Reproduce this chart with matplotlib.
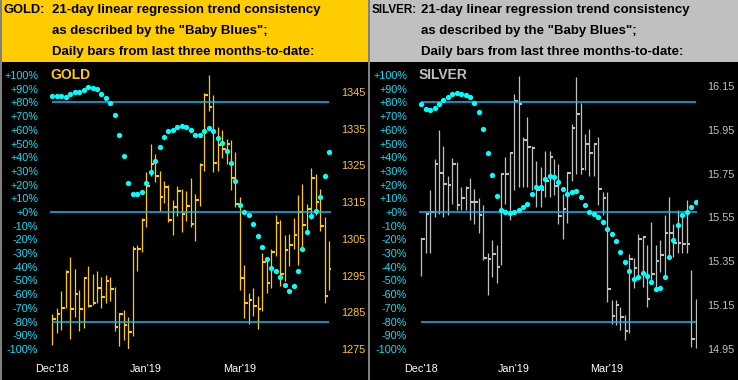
import matplotlib
matplotlib.use("Agg")
import matplotlib.pyplot as plt
from matplotlib.patches import Rectangle
import matplotlib.transforms as mtransforms

# ---------------- data ----------------
month_ticks = [0, 21, 42]
month_labels = ["Dec'18", "Jan'19", "Mar'19"]
pct_ticks = list(range(-100, 101, 10))

gold_high = [1284.5, 1286.2, 1290.8, 1296.5, 1300.1, 1296.8, 1291.1, 1294.5, 1297.6, 1295.4,
             1296.3, 1294.6, 1295.2, 1294.6, 1291.9, 1284.8, 1285.6, 1283.7, 1303.1, 1303.3,
             1310.7, 1323.2, 1330.9, 1328.1, 1323.5, 1320.8, 1319.7, 1315.6, 1319.4, 1318.5,
             1318.1, 1321.6, 1317.2, 1325.6, 1344.8, 1349.7, 1344.2, 1335.5, 1334.7, 1332.2,
             1332.0, 1328.7, 1316.4, 1297.9, 1290.3, 1291.6, 1289.4, 1301.2, 1300.1, 1302.2,
             1311.5, 1310.1, 1306.0, 1306.3, 1310.7, 1317.0, 1320.0, 1314.4, 1324.3, 1322.7,
             1318.6, 1311.0, 1304.4]
gold_low = [1276.1, 1279.4, 1280.2, 1286.2, 1277.8, 1283.8, 1280.0, 1280.8, 1286.5, 1287.0,
            1287.6, 1286.3, 1287.5, 1288.2, 1280.0, 1275.9, 1277.5, 1275.1, 1278.5, 1296.3,
            1301.5, 1308.1, 1322.1, 1320.6, 1312.7, 1314.7, 1309.5, 1306.1, 1311.3, 1307.0,
            1310.0, 1308.2, 1304.5, 1314.0, 1323.6, 1339.7, 1323.3, 1323.6, 1327.1, 1325.5,
            1318.3, 1313.8, 1291.2, 1283.5, 1281.9, 1284.1, 1280.5, 1285.4, 1290.3, 1291.7,
            1300.4, 1292.2, 1293.6, 1297.7, 1302.2, 1298.0, 1302.4, 1306.5, 1310.5, 1311.6,
            1307.2, 1287.6, 1291.2]
gold_close = [1283.3, 1284.5, 1286.2, 1296.1, 1286.0, 1290.1, 1286.0, 1294.4, 1286.8, 1287.6,
              1291.7, 1289.3, 1293.4, 1291.3, 1281.1, 1284.5, 1281.5, 1279.7, 1302.3, 1302.3,
              1310.1, 1319.4, 1325.5, 1322.0, 1316.5, 1319.2, 1310.1, 1313.8, 1318.1, 1311.7,
              1314.0, 1309.1, 1315.7, 1325.0, 1344.1, 1340.9, 1325.8, 1330.6, 1329.6, 1330.9,
              1321.7, 1314.6, 1294.4, 1287.6, 1288.4, 1286.8, 1286.0, 1298.6, 1293.1, 1301.5,
              1309.4, 1295.5, 1302.0, 1303.4, 1306.1, 1312.4, 1308.9, 1313.1, 1321.5, 1315.1,
              1308.4, 1289.5, 1296.9]
gold_blues = [84.9, 84.9, 84.9, 83.9, 86.4, 87.6, 87.6, 88.8, 91.5, 90.5,
              90.0, 86.4, 83.4, 79.6, 71.0, 56.2, 40.9, 21.2, 13.1, 13.1,
              14.6, 21.2, 29.2, 37.2, 47.4, 54.7, 59.1, 59.9, 62.0, 62.8,
              62.2, 60.0, 56.2, 56.2, 59.4, 61.6, 59.4, 54.2, 50.6, 44.8,
              36.0, 22.9, 5.4, 0.2, -1.9, -8.5, -17.3, -25.3, -34.1, -40.6,
              -42.8, -47.2, -53.0, -57.4, -53.8, -42.8, -26.8, -14.4, -2.7, 0.9,
              11.2, 26.5, 44.0]
gold_price_ticks = [1275, 1285, 1295, 1305, 1315, 1325, 1335, 1345]

silver_high = [15.456, 15.567, 15.677, 15.817, 15.950, 15.877, 15.741, 15.821, 15.801, 15.688,
               15.692, 15.730, 15.680, 15.640, 15.605, 15.385, 15.445, 15.423, 15.749, 15.827,
               15.847, 16.112, 16.195, 15.915, 16.006, 15.877, 15.809, 15.779, 15.855, 15.855,
               15.817, 15.794, 15.658, 15.756, 15.976, 16.191, 16.074, 15.930, 15.953, 15.888,
               15.918, 15.665, 15.665, 15.173, 15.173, 15.142, 15.105, 15.382, 15.362, 15.476,
               15.464, 15.423, 15.529, 15.423, 15.445, 15.559, 15.645, 15.521, 15.585, 15.567,
               15.627, 15.309, 15.177]
silver_low = [15.283, 15.388, 15.385, 15.551, 15.567, 15.551, 15.559, 15.612, 15.585, 15.585,
              15.582, 15.536, 15.518, 15.480, 15.355, 15.195, 15.276, 15.249, 15.332, 15.612,
              15.536, 15.673, 15.688, 15.688, 15.688, 15.673, 15.597, 15.597, 15.642, 15.642,
              15.650, 15.521, 15.449, 15.524, 15.718, 15.749, 15.749, 15.764, 15.741, 15.741,
              15.605, 15.559, 15.165, 15.064, 15.059, 15.036, 14.991, 15.021, 15.226, 15.264,
              15.233, 15.140, 15.249, 15.226, 15.301, 15.271, 15.362, 15.370, 15.385, 15.385,
              15.385, 14.960, 14.953]
silver_close = [15.451, 15.564, 15.575, 15.794, 15.751, 15.703, 15.699, 15.794, 15.605, 15.640,
                15.683, 15.620, 15.620, 15.559, 15.362, 15.358, 15.382, 15.324, 15.749, 15.749,
                15.842, 16.079, 16.067, 15.905, 15.870, 15.867, 15.673, 15.673, 15.718, 15.824,
                15.691, 15.555, 15.590, 15.751, 15.960, 16.024, 15.771, 15.885, 15.842, 15.885,
                15.680, 15.640, 15.223, 15.101, 15.151, 15.094, 15.033, 15.360, 15.320, 15.451,
                15.459, 15.179, 15.291, 15.351, 15.380, 15.479, 15.479, 15.433, 15.433, 15.429,
                15.429, 14.995, 15.101]
silver_blues = [78.8, 75.4, 74.7, 75.6, 78.8, 82.0, 83.9, 85.8, 86.6, 86.1,
                85.1, 84.2, 79.3, 72.7, 60.8, 43.3, 27.2, 11.4, 1.7, 0.2,
                -1.0, 0.2, 1.2, 3.4, 6.1, 13.4, 18.5, 18.5, 23.8, 26.2,
                25.5, 22.1, 16.5, 13.4, 14.3, 15.5, 10.7, 4.8, 0.2, -1.2,
                -3.9, -7.1, -12.2, -16.3, -21.4, -29.5, -36.3, -42.8, -48.7, -47.7,
                -44.8, -47.0, -51.4, -56.5, -55.8, -47.2, -32.6, -20.2, -9.8, -2.0,
                0.2, 3.6, 7.0]
silver_price_ticks = [14.95, 15.15, 15.35, 15.55, 15.75, 15.95, 16.15]

# ---------------- styling ----------------
W, H = 738, 380
GOLD_C = "#FFCC00"
SILV_C = "#C0C0C0"
DOT_C = "#00FFFF"
LINE_C = "#00BFFF"
PCT_C = "#00E5FF"
FONT = "Liberation Sans"

fig = plt.figure(figsize=(W / 100, H / 100), dpi=100, facecolor="black")


def fx(px):
    return px / W


def fy(py):
    return 1 - py / H


# headers
fig.patches.append(Rectangle((0, fy(62)), fx(368), 62 / H, transform=fig.transFigure,
                             facecolor=GOLD_C, edgecolor="none", zorder=0))
fig.patches.append(Rectangle((fx(370), fy(62)), fx(368), 62 / H, transform=fig.transFigure,
                             facecolor=SILV_C, edgecolor="none", zorder=0))
fig.patches.append(Rectangle((fx(368), 0), fx(2), 1, transform=fig.transFigure,
                             facecolor="#808080", edgecolor="none", zorder=0))
fig.patches.append(Rectangle((0, 0), fx(1.5), 1, transform=fig.transFigure,
                             facecolor="#808080", edgecolor="none", zorder=0))

hdr_lines = ["21-day linear regression trend consistency",
             "as described by the \"Baby Blues\";",
             "Daily bars from last three months-to-date:"]
hdr_y = [10, 31, 52]
for lab, x0, x1, lsize in (("GOLD:", 3, 52, 9.3), ("SILVER:", 372, 421, 8.4)):
    fig.text(fx(x0), fy(hdr_y[0]), lab, fontsize=lsize, fontweight="bold", family=FONT,
             color="black", va="center", ha="left")
    for t, yy in zip(hdr_lines, hdr_y):
        fig.text(fx(x1), fy(yy), t, fontsize=9.5, fontweight="bold", family=FONT,
                 color="black", va="center", ha="left")


def panel(left_px, right_px, xlim, high, low, close, blues, pticks, plabels, plim, color, name):
    ax = fig.add_axes([fx(left_px), fy(349), fx(right_px - left_px), 274 / H])
    ax.set_facecolor("black")
    for s in ax.spines.values():
        s.set_visible(False)
    n = len(high)
    xs = list(range(n))
    ax.vlines(xs, low, high, color=color, lw=0.9)
    ax.hlines(close, xs, [x + 0.8 for x in xs], color=color, lw=1.5)
    ax.set_ylim(*plim)
    ax.set_xlim(*xlim)
    ax.set_xticks(month_ticks)
    ax.set_xticklabels(month_labels)
    ax.tick_params(axis="x", length=0, pad=10.5, labelsize=7.8, labelcolor="white")
    for t in ax.get_xticklabels():
        t.set_family(FONT)

    ax2 = ax.twinx()
    for s in ax2.spines.values():
        s.set_visible(False)
    # price axis on the right, percent axis on the left
    ax.yaxis.tick_right()
    ax.set_yticks(pticks)
    ax.set_yticklabels(plabels)
    ax.tick_params(axis="y", which="both", left=False, labelleft=False, right=True,
                   labelright=True, length=0, pad=7.5, labelsize=7.8, labelcolor=color)
    for t in ax.get_yticklabels():
        t.set_family(FONT)

    ax2.set_ylim(-100, 100)
    ax2.yaxis.tick_left()
    ax2.set_yticks(pct_ticks)
    ax2.set_yticklabels([f"{v:+d}%" for v in pct_ticks])
    ax2.tick_params(axis="y", which="both", left=True, labelleft=True, right=False,
                    labelright=False, length=0, pad=8.5, labelsize=7.8, labelcolor=PCT_C)
    for t in ax2.get_yticklabels():
        t.set_family(FONT)
    ax2.hlines([80, -80], 0, n - 1, color=LINE_C, lw=1.1, zorder=2)
    ax2.axhline(0, color=LINE_C, lw=1.1, zorder=2)
    ax2.plot(xs, blues, linestyle="none", marker="o", markersize=3.8,
             color=DOT_C, markeredgewidth=0, zorder=3)
    trans = mtransforms.blended_transform_factory(ax2.transAxes, ax2.transData)
    ax2.text(0.0, 100, name, transform=trans, color=color, fontsize=10,
             fontweight="bold", family=FONT, va="center", ha="left")
    return ax, ax2


panel(50, 331, (-0.515, 62.38), gold_high, gold_low, gold_close, gold_blues,
      gold_price_ticks, [str(v) for v in gold_price_ticks], (1275, 1349.64), GOLD_C, "GOLD")
panel(419, 696.7, (-0.52, 62.25), silver_high, silver_low, silver_close, silver_blues,
      silver_price_ticks, [f"{v:.2f}" for v in silver_price_ticks], (14.9486, 16.2),
      SILV_C, "SILVER")

fig.savefig("out.png", dpi=100, facecolor="black")
